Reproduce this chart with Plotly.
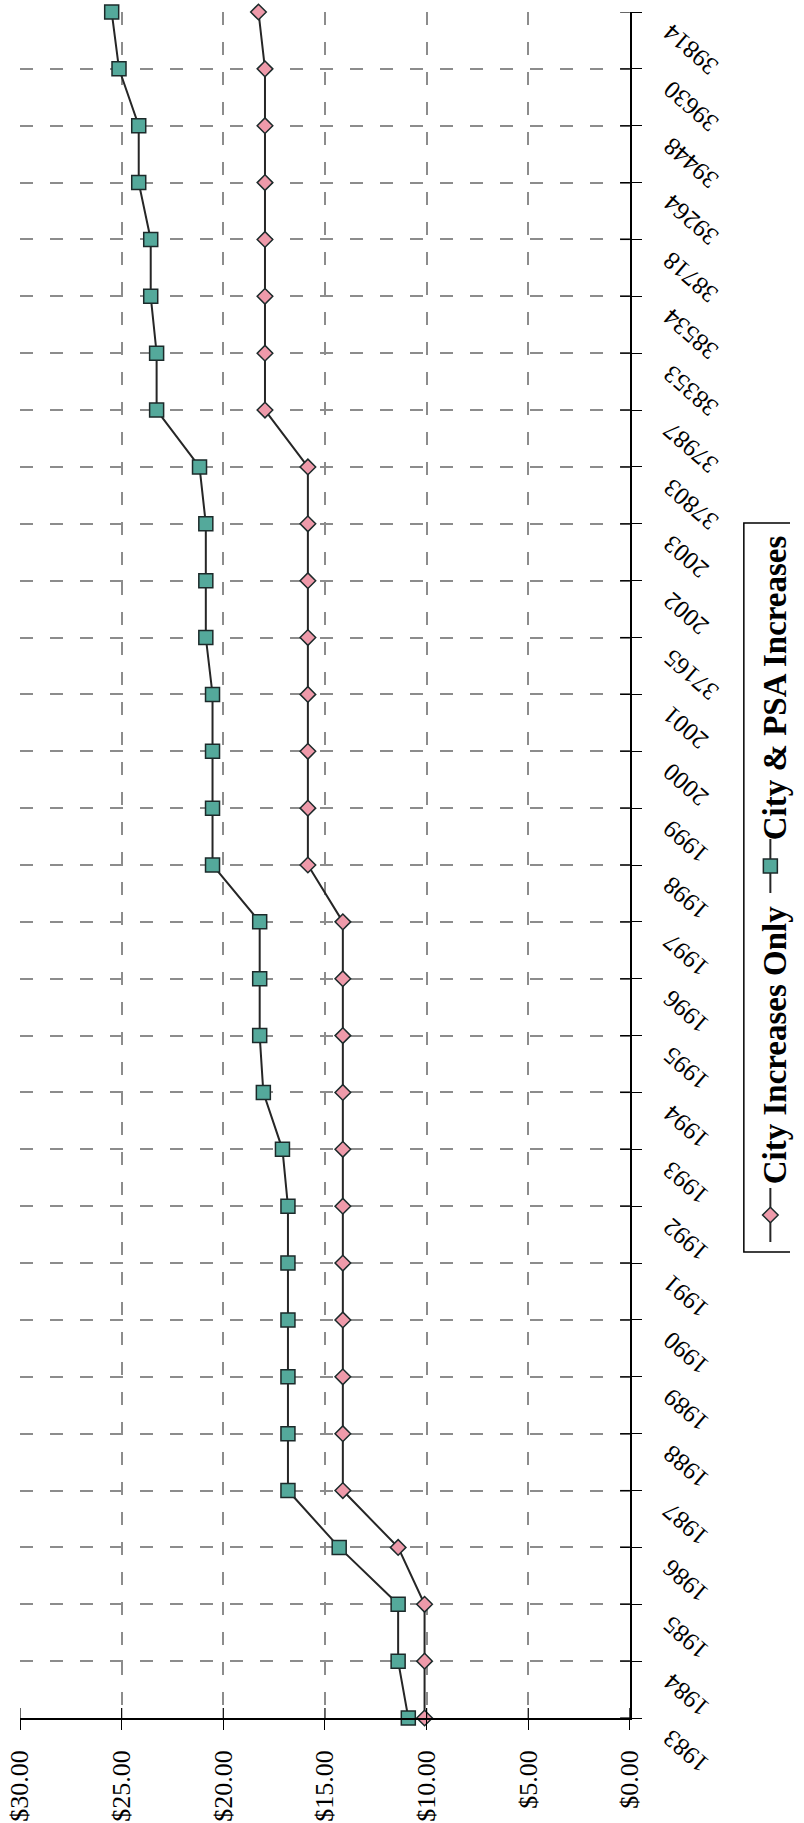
import plotly.graph_objects as go

# ---------------- data ----------------
categories = ["1983", "1984", "1985", "1986", "1987", "1988", "1989", "1990",
              "1991", "1992", "1993", "1994", "1995", "1996", "1997", "1998",
              "1999", "2000", "2001", "37165", "2002", "2003", "37803", "37987",
              "38353", "38534", "38718", "39264", "39448", "39630", "39814"]

city_only = [10.10, 10.10, 10.10, 11.40,
             14.12, 14.12, 14.12, 14.12, 14.12, 14.12, 14.12, 14.12, 14.12, 14.12, 14.12,
             15.84, 15.84, 15.84, 15.84, 15.84, 15.84, 15.84, 15.84,
             17.95, 17.95, 17.95, 17.95, 17.95, 17.95, 17.95,
             18.27]

city_psa = [10.90, 11.40, 11.40, 14.30,
            16.82, 16.82, 16.82, 16.82, 16.82, 16.82, 17.09, 18.03,
            18.21, 18.21, 18.21,
            20.53, 20.53, 20.53, 20.53, 20.86, 20.86, 20.86, 21.17,
            23.28, 23.28, 23.57, 23.57, 24.16, 24.16, 25.13, 25.49]

value_ticks = [0, 5, 10, 15, 20, 25, 30]
value_tick_text = ["$%.2f" % t for t in value_ticks]
series_names = ["City Increases Only", "City & PSA Increases"]

# ---------------- style ----------------
W, H = 804, 1823
ML, MR, MT, MB = 20, 0, 12, 105
PLOT_W = W - ML - MR
PLOT_H = H - MT - MB
AXIS_X = 641
XDOM = (AXIS_X - ML) / PLOT_W
XPLOT_W = AXIS_X - ML

FONT = "Liberation Serif"
LINE_COL = "#262626"
EDGE = "#1c2a2a"
PINK = "#ee9aaa"
GREEN = "#54a99b"
GRID = "#8c8c8c"
DASH = "13px,17px"
TICK_IN = 10

fig = go.Figure()

fig.add_trace(go.Scatter(
    x=city_only, y=categories, mode="lines+markers", name=series_names[0],
    line=dict(color=LINE_COL, width=2),
    marker=dict(symbol="diamond", size=12, color=PINK, line=dict(color=EDGE, width=1.5)),
    cliponaxis=False, showlegend=False))

fig.add_trace(go.Scatter(
    x=city_psa, y=categories, mode="lines+markers", name=series_names[1],
    line=dict(color=LINE_COL, width=2),
    marker=dict(symbol="square", size=14, color=GREEN, line=dict(color=EDGE, width=1.5)),
    cliponaxis=False, showlegend=False))

# ---------------- hand-drawn rotated legend ----------------
def v(py):
    return (MT + PLOT_H) - py

legend_items = [
    (series_names[0], "diamond", 12, PINK, 1215, 1045),
    (series_names[1], "square", 14, GREEN, 866, 688),
]
for name, sym, size, col, sym_y, txt_y in legend_items:
    fig.add_trace(go.Scatter(
        x=[0, 0], y=[v(sym_y + 27), v(sym_y - 27)], mode="lines",
        line=dict(color=LINE_COL, width=2), xaxis="x3", yaxis="y3",
        showlegend=False, hoverinfo="skip", cliponaxis=False))
    fig.add_trace(go.Scatter(
        x=[0], y=[v(sym_y)], mode="markers",
        marker=dict(symbol=sym, size=size, color=col, line=dict(color=EDGE, width=1.5)),
        xaxis="x3", yaxis="y3", showlegend=False, hoverinfo="skip", cliponaxis=False))

annotations = []
for name, sym, size, col, sym_y, txt_y in legend_items:
    annotations.append(dict(
        text="<b>%s</b>" % name, x=5, y=v(txt_y), xref="x3", yref="y3",
        showarrow=False, textangle=-90, xanchor="center", yanchor="middle",
        font=dict(family=FONT, size=33, color="black")))

# category tick labels, rotated like the original
CAT_FS = 25
for i, c in enumerate(categories):
    L = len(c) * 0.5 * CAT_FS
    dx = 37 + 0.755 * L / 2
    dy = 17 + 0.656 * L / 2
    annotations.append(dict(
        text=c, x=XDOM, xref="paper", y=i, yref="y", showarrow=False,
        textangle=-139, xanchor="center", yanchor="middle",
        xshift=dx, yshift=-dy, font=dict(family=FONT, size=CAT_FS, color="black")))

LEG_X0 = 0.9
leg_px0 = ML + LEG_X0 * PLOT_W

shapes = [dict(type="rect", xref="x3", yref="y3",
               x0=757 - 784, x1=W - 784 + 10, y0=v(1252), y1=v(523),
               line=dict(color="black", width=1.5), fillcolor="rgba(0,0,0,0)")]
# inner halves of the "cross" tick marks
for t in value_ticks:
    shapes.append(dict(type="line", xref="x", yref="y domain", x0=t, x1=t,
                       y0=0, y1=TICK_IN / PLOT_H, line=dict(color="black", width=1.2)))
for i in range(len(categories)):
    shapes.append(dict(type="line", xref="x domain", yref="y", x0=1 - TICK_IN / XPLOT_W, x1=1,
                       y0=i, y1=i, line=dict(color="black", width=1.2)))

fig.update_layout(
    width=W, height=H,
    margin=dict(l=ML, r=MR, t=MT, b=MB, pad=0),
    paper_bgcolor="white", plot_bgcolor="rgba(0,0,0,0)",
    font=dict(family=FONT, color="black"),
    showlegend=False,
    xaxis=dict(
        domain=[0, XDOM], range=[30, 0], tickmode="array",
        tickvals=value_ticks, ticktext=value_tick_text, tickangle=-90,
        tickfont=dict(family=FONT, size=26, color="black"),
        ticks="outside", ticklen=10, tickwidth=1.2, tickcolor="black",
        ticklabelstandoff=10,
        showline=True, linecolor="black", linewidth=1.5,
        showgrid=True, gridcolor=GRID, gridwidth=1.5, griddash=DASH,
        zeroline=False, anchor="y"),
    yaxis=dict(
        domain=[0, 1], type="category", categoryorder="array", categoryarray=categories,
        range=[0, len(categories) - 1], side="right", anchor="x",
        showticklabels=False,
        ticks="outside", ticklen=10, tickwidth=1.2, tickcolor="black",
        showline=True, linecolor="black", linewidth=1.5,
        showgrid=True, gridcolor=GRID, gridwidth=1.5, griddash=DASH,
        zeroline=False),
    xaxis3=dict(
        domain=[LEG_X0, 1], range=[leg_px0 - 784, W - 784], visible=False,
        anchor="y3", fixedrange=True),
    yaxis3=dict(
        domain=[0, 1], range=[0, PLOT_H], visible=False, anchor="x3", fixedrange=True),
    shapes=shapes,
    annotations=annotations,
)

fig.write_html("out.html")
